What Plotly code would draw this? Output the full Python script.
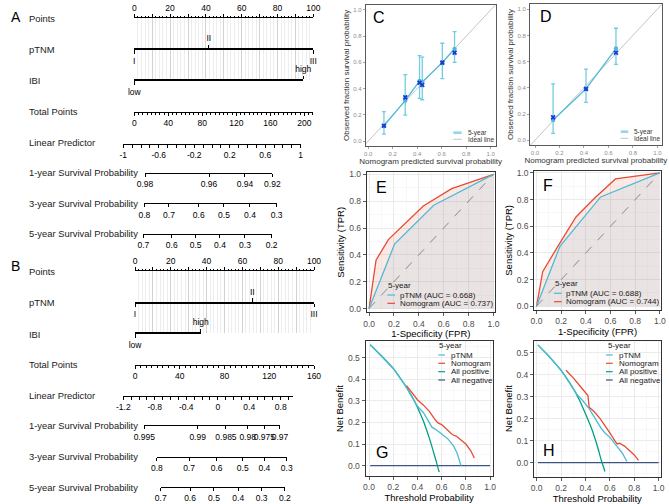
import plotly.graph_objects as go

W, H = 669, 504
FONT = "Liberation Sans"

# ======================= DATA =======================
# ---- Nomogram A ----
nomA_ptnm_levels = ["I", "II", "III"]
nomA_ptnm_points = [0, 41.6, 100]
nomA_ibi_levels = ["low", "high"]
nomA_ibi_points = [0, 94.4]
nomA_total_range = [0, 210.6]
nomA_total_ticks = [0, 40, 80, 120, 160, 200]
nomA_lp_range = [-1, 1]
nomA_lp_ticks = [-1, -0.6, -0.2, 0.2, 0.6, 1]
nomA_s1_labels = ["0.98", "0.96", "0.94", "0.92"]
nomA_s1_total = [12.6, 87.9, 130.2, 162.4]
nomA_s3_labels = ["0.8", "0.7", "0.6", "0.5", "0.4", "0.3"]
nomA_s3_total = [11.8, 40.8, 75.8, 105.5, 136.1, 167.5]
nomA_s5_labels = ["0.7", "0.6", "0.5", "0.4", "0.3", "0.2"]
nomA_s5_total = [10.6, 44.0, 72.2, 100.8, 130.2, 161.6]

# ---- Nomogram B ----
nomB_ptnm_levels = ["I", "II", "III"]
nomB_ptnm_points = [0, 65.5, 100]
nomB_ibi_levels = ["low", "high"]
nomB_ibi_points = [0, 36.7]
nomB_total_range = [0, 160]
nomB_total_ticks = [0, 40, 80, 120, 160]
nomB_lp_range = [-1.2, 0.96]
nomB_lp_ticks = [-1.2, -0.8, -0.4, 0, 0.4, 0.8]
nomB_s1_labels = ["0.995", "0.99", "0.985", "0.98", "0.975", "0.97"]
nomB_s1_total = [8.3, 56.0, 81.3, 100.7, 115.6, 129.6]
nomB_s3_labels = ["0.8", "0.7", "0.6", "0.5", "0.4", "0.3"]
nomB_s3_total = [19.5, 48.3, 73.0, 96.3, 115.6, 135.6]
nomB_s5_labels = ["0.7", "0.6", "0.5", "0.4", "0.3", "0.2"]
nomB_s5_total = [23.0, 49.2, 70.6, 92.3, 113.2, 134.0]

points_ticks = [0, 10, 20, 30, 40, 50, 60, 70, 80, 90, 100]
points_labels = ["0", "", "20", "", "40", "", "60", "", "80", "", "100"]
row_names = ["Points", "pTNM", "IBI", "Total Points", "Linear Predictor",
             "1-year Survival Probability", "3-year Survival Probability",
             "5-year Survival Probability"]

# ---- Calibration C ----
calC_pred = [0.128, 0.302, 0.419, 0.441, 0.605, 0.705]
calC_obs = [0.115, 0.310, 0.458, 0.450, 0.598, 0.702]
calC_lower = [0.053, 0.198, 0.325, 0.315, 0.476, 0.600]
calC_upper = [0.224, 0.506, 0.651, 0.640, 0.746, 0.834]
calC_corrected = [0.117, 0.333, 0.445, 0.427, 0.598, 0.674]
# ---- Calibration D ----
calD_pred = [0.148, 0.417, 0.662]
calD_obs = [0.155, 0.392, 0.700]
calD_lower = [0.053, 0.290, 0.579]
calD_upper = [0.430, 0.543, 0.855]
calD_corrected = [0.175, 0.392, 0.668]
ideal_line = [-0.1, 1.1]

# ---- ROC E ----
rocE_ptnm_fpr = [0, 0.205, 0.52, 1]
rocE_ptnm_tpr = [0, 0.48, 0.77, 1]
rocE_nomo_fpr = [0, 0.056, 0.155, 0.436, 0.664, 1]
rocE_nomo_tpr = [0, 0.36, 0.514, 0.764, 0.893, 1]
# ---- ROC F ----
rocF_ptnm_fpr = [0, 0.19, 0.52, 1]
rocF_ptnm_tpr = [0, 0.45, 0.82, 1]
rocF_nomo_fpr = [0, 0.05, 0.18, 0.32, 0.47, 0.64, 1]
rocF_nomo_tpr = [0, 0.26, 0.46, 0.67, 0.81, 0.955, 1]
roc_chance = [0, 1]

# ---- DCA G ----
dcaG_all_x = [0.01, 0.1, 0.2, 0.3, 0.35, 0.4, 0.45, 0.5, 0.55, 0.58]
dcaG_all_y = [0.56, 0.51, 0.45, 0.37, 0.325, 0.27, 0.205, 0.125, 0.03, -0.03]
dcaG_ptnm_x = [0.01, 0.1, 0.2, 0.3, 0.35, 0.4, 0.45, 0.5, 0.52, 0.55, 0.6, 0.65, 0.7, 0.73, 0.76]
dcaG_ptnm_y = [0.56, 0.51, 0.45, 0.37, 0.325, 0.275, 0.245, 0.2, 0.178, 0.168, 0.148, 0.125, 0.09, 0.055, 0.0]
dcaG_nomo_x = [0.31, 0.35, 0.4, 0.45, 0.5, 0.55, 0.57, 0.6, 0.65, 0.69, 0.72, 0.76, 0.8, 0.84, 0.87]
dcaG_nomo_y = [0.37, 0.34, 0.305, 0.28, 0.25, 0.21, 0.198, 0.19, 0.165, 0.143, 0.137, 0.12, 0.1, 0.07, 0.035]
dca_none_x = [0.01, 1.0]
dca_none_y = [0.0, 0.0]
# ---- DCA H ----
dcaH_all_x = [0.01, 0.1, 0.2, 0.3, 0.35, 0.4, 0.45, 0.5, 0.53, 0.56]
dcaH_all_y = [0.535, 0.483, 0.419, 0.336, 0.285, 0.222, 0.155, 0.07, 0.01, -0.04]
dcaH_ptnm_x = [0.01, 0.1, 0.2, 0.3, 0.33, 0.38, 0.43, 0.48, 0.53, 0.56, 0.6, 0.65, 0.7, 0.74]
dcaH_ptnm_y = [0.535, 0.485, 0.42, 0.336, 0.31, 0.28, 0.245, 0.2, 0.155, 0.135, 0.115, 0.08, 0.045, 0.005]
dcaH_nomo_x = [0.24, 0.3, 0.36, 0.42, 0.43, 0.47, 0.52, 0.56, 0.6, 0.64, 0.66, 0.68, 0.72, 0.76, 0.8, 0.835]
dcaH_nomo_y = [0.42, 0.385, 0.345, 0.305, 0.252, 0.232, 0.2, 0.17, 0.135, 0.1, 0.085, 0.088, 0.075, 0.055, 0.035, 0.01]

# colours
C_CYAN = "#4DBBD5"
C_RED = "#E64B35"
C_TEAL = "#00A087"
C_NAVY = "#3C5488"
C_BLUE = "#1f35d6"

# ======================= LAYOUT HELPERS =======================
fig = go.Figure()
layout = dict(template="none", width=W, height=H, autosize=False,
              margin=dict(l=0, r=0, t=0, b=0, pad=0, autoexpand=False),
              paper_bgcolor="white", plot_bgcolor="rgba(0,0,0,0)", showlegend=False,
              font=dict(family=FONT, color="black"))
annotations = []
shapes = []
n_axes = [0]


def fx(px):
    return px / W


def fy(py):
    return 1 - py / H


def add_pair(xcfg, ycfg):
    n_axes[0] += 1
    n = n_axes[0]
    s = "" if n == 1 else str(n)
    xcfg["anchor"] = "y" + s
    ycfg["anchor"] = "x" + s
    xcfg["automargin"] = False
    ycfg["automargin"] = False
    layout["xaxis" + s] = xcfg
    layout["yaxis" + s] = ycfg
    return "x" + s, "y" + s


HIDDEN_Y = dict(showline=False, showticklabels=False, showgrid=False, zeroline=False,
                ticks="", range=[0, 1], fixedrange=True)
NOMO_TICKFONT = dict(family=FONT, size=8.5, color="black")


def scale_axis(px0, px1, y_px, rng, side, tickvals, ticktext, ticklen=3.5,
               minor=None, grid=None, ydomain=None):
    yf = fy(y_px)
    if ydomain is None:
        ydomain = [yf, yf + 0.004] if side == "bottom" else [yf - 0.004, yf]
    eps = (rng[1] - rng[0]) * 1e-6
    x = dict(domain=[fx(px0), fx(px1)], range=[rng[0] - eps, rng[1] + eps], side=side,
             showline=True, linecolor="black", linewidth=1,
             ticks="outside", ticklen=ticklen, tickwidth=1, tickcolor="black",
             tickmode="array", tickvals=tickvals, ticktext=ticktext, tickangle=0,
             tickfont=NOMO_TICKFONT, showgrid=False, zeroline=False, fixedrange=True)
    if minor:
        x["minor"] = minor
    if grid:
        x.update(grid)
    y = dict(HIDDEN_Y, domain=ydomain)
    xa, ya = add_pair(x, y)
    fig.add_trace(go.Scatter(x=[None], y=[None], xaxis=xa, yaxis=ya,
                             showlegend=False, hoverinfo="skip"))


def text(px, py, s, size, color="black", xanchor="left", family=FONT):
    annotations.append(dict(x=fx(px), y=fy(py), xref="paper", yref="paper", text=s,
                            showarrow=False, xanchor=xanchor, yanchor="middle",
                            font=dict(family=family, size=size, color=color)))


def build_nomogram(g, d, letter):
    pscale = (g["p100"] - g["p0"]) / 100.0

    def ppx(v):
        return g["p0"] + v * pscale

    tr = d["total_range"]
    tscale = (g["p100"] - g["p0"]) / (tr[1] - tr[0])

    def tpx(t):
        return g["p0"] + (t - tr[0]) * tscale

    rows = g["rows"]
    # Points scale with reference grid
    scale_axis(ppx(0), ppx(100), rows["points"], [0, 100], "top", points_ticks, points_labels,
               ticklen=3,
               minor=dict(dtick=2, tick0=0, ticks="outside", ticklen=1.5, tickcolor="black",
                          showgrid=True, gridcolor="#ededed", gridwidth=1),
               grid=dict(showgrid=True, gridcolor="#d2d2d2", gridwidth=1),
               ydomain=[fy(rows["ibi"]), fy(rows["points"])])
    # categorical predictors (labels alternate below / above)
    for key, levels, pts in [("ptnm", d["ptnm_levels"], d["ptnm_points"]),
                             ("ibi", d["ibi_levels"], d["ibi_points"])]:
        lo, hi = min(pts), max(pts)
        below = [i for i in range(len(levels)) if i % 2 == 0]
        above = [i for i in range(len(levels)) if i % 2 == 1]
        scale_axis(ppx(lo), ppx(hi), rows[key], [lo, hi], "bottom",
                   [pts[i] for i in below], [levels[i] for i in below])
        scale_axis(ppx(lo), ppx(hi), rows[key], [lo, hi], "top",
                   [pts[i] for i in above], [levels[i] for i in above])
    # total points
    scale_axis(tpx(tr[0]), tpx(tr[1]), rows["total"], tr, "bottom", d["total_ticks"],
               [f"{v:g}" for v in d["total_ticks"]], ticklen=3,
               minor=dict(dtick=5, tick0=0, ticks="outside", ticklen=2.5, tickcolor="black"))
    # linear predictor
    lr = d["lp_range"]
    scale_axis(g["lp0"], g["lp0"] + (lr[1] - lr[0]) * g["lp_unit"], rows["lp"], lr, "bottom",
               d["lp_ticks"], [f"{v:g}" for v in d["lp_ticks"]], ticklen=3,
               minor=dict(dtick=0.1, tick0=lr[0], ticks="outside", ticklen=2.5, tickcolor="black"))
    # survival probabilities
    for key, labels, tot in [("s1", d["s1_labels"], d["s1_total"]),
                             ("s3", d["s3_labels"], d["s3_total"]),
                             ("s5", d["s5_labels"], d["s5_total"])]:
        lo, hi = min(tot), max(tot)
        scale_axis(tpx(lo), tpx(hi), rows[key], [lo, hi], "bottom", tot, labels, ticklen=3)
    # row labels
    keys = ["points", "ptnm", "ibi", "total", "lp", "s1", "s3", "s5"]
    for k, name in zip(keys, row_names):
        text(27, g["label_y"][k], name, 9.4, color="#1a1a1a")
    text(9, g["letter_y"], letter, 14, color="black")


GEO_A = dict(p0=134.3, p100=313.3, lp0=123.3, lp_unit=88.7, letter_y=17,
             rows=dict(points=18.3, ptnm=49.3, ibi=80.0, total=111.7, lp=144.0,
                       s1=172.7, s3=203.3, s5=234.0),
             label_y=dict(points=18.5, ptnm=50, ibi=80.5, total=111.2, lp=142.5,
                          s1=172.2, s3=203, s5=233.5))
GEO_B = dict(p0=135.0, p100=314.0, lp0=123.3, lp_unit=78.7, letter_y=266,
             rows=dict(points=271.0, ptnm=302.7, ibi=333.0, total=364.7, lp=396.0,
                       s1=425.3, s3=457.0, s5=487.0),
             label_y=dict(points=271.5, ptnm=302.5, ibi=334, total=364, lp=395,
                          s1=425.5, s3=456.5, s5=487))

build_nomogram(GEO_A, dict(ptnm_levels=nomA_ptnm_levels, ptnm_points=nomA_ptnm_points,
                           ibi_levels=nomA_ibi_levels, ibi_points=nomA_ibi_points,
                           total_range=nomA_total_range, total_ticks=nomA_total_ticks,
                           lp_range=nomA_lp_range, lp_ticks=nomA_lp_ticks,
                           s1_labels=nomA_s1_labels, s1_total=nomA_s1_total,
                           s3_labels=nomA_s3_labels, s3_total=nomA_s3_total,
                           s5_labels=nomA_s5_labels, s5_total=nomA_s5_total), "A")
build_nomogram(GEO_B, dict(ptnm_levels=nomB_ptnm_levels, ptnm_points=nomB_ptnm_points,
                           ibi_levels=nomB_ibi_levels, ibi_points=nomB_ibi_points,
                           total_range=nomB_total_range, total_ticks=nomB_total_ticks,
                           lp_range=nomB_lp_range, lp_ticks=nomB_lp_ticks,
                           s1_labels=nomB_s1_labels, s1_total=nomB_s1_total,
                           s3_labels=nomB_s3_labels, s3_total=nomB_s3_total,
                           s5_labels=nomB_s5_labels, s5_total=nomB_s5_total), "B")


# ======================= PANELS =======================
def panel(xdom, ydom, xr, yr, xtitle, ytitle, kind, ydtick=0.2):
    if kind == "cal":
        tf = dict(family=FONT, size=6, color="#8c8c8c")
        ttf = dict(family=FONT, size=8, color="#333333")
        common = dict(showline=True, mirror=True, linecolor="#5a5a5a", linewidth=1,
                      ticks="outside", ticklen=2, tickcolor="#8c8c8c", tickwidth=0.8,
                      showgrid=False, zeroline=False, tickformat=".1f", tickangle=0,
                      tickfont=tf, fixedrange=True)
    else:
        tf = dict(family=FONT, size=8.5, color="#4d4d4d")
        ttf = dict(family=FONT, size=9.5, color="black")
        common = dict(showline=True, mirror=True, linecolor="#333333", linewidth=1,
                      ticks="outside", ticklen=3, tickcolor="#333333", tickwidth=0.8,
                      showgrid=True, gridcolor="#e6e6e6", gridwidth=0.8,
                      zeroline=False, tickformat=".1f", tickangle=0,
                      tickfont=tf, fixedrange=True)
    x = dict(common, domain=[fx(xdom[0]), fx(xdom[1])], range=xr, dtick=0.2, tick0=0,
             title=dict(text=xtitle, font=ttf, standoff=2))
    y = dict(common, domain=[fy(ydom[1]), fy(ydom[0])], range=yr, dtick=ydtick, tick0=0,
             title=dict(text=ytitle, font=ttf, standoff=2))
    if kind != "cal":
        x["minor"] = dict(dtick=0.1, tick0=0, showgrid=True, gridcolor="#f3f3f3", gridwidth=0.6)
        y["minor"] = dict(dtick=ydtick / 2, tick0=0, showgrid=True, gridcolor="#f3f3f3", gridwidth=0.6)
    return add_pair(x, y)


def line_key(x0, x1, py, color, width):
    shapes.append(dict(type="line", xref="paper", yref="paper", x0=fx(x0), x1=fx(x1),
                       y0=fy(py), y1=fy(py), line=dict(color=color, width=width)))


def calib(xdom, ydom, xr, yr, pred, obs, lower, upper, corrected, letter, lpos, key):
    xa, ya = panel(xdom, ydom, xr, yr, "Nomogram predicted survival probability",
                   "Observed fraction survival probability", "cal")
    fig.add_trace(go.Scatter(x=ideal_line, y=ideal_line, mode="lines",
                             line=dict(color="#c4c4c4", width=1), xaxis=xa, yaxis=ya,
                             showlegend=False, hoverinfo="skip"))
    fig.add_trace(go.Scatter(x=pred, y=obs, mode="lines+markers",
                             line=dict(color=C_CYAN, width=1.3),
                             marker=dict(color=C_CYAN, size=4.5),
                             error_y=dict(type="data", symmetric=False,
                                          array=[u - o for u, o in zip(upper, obs)],
                                          arrayminus=[o - l for o, l in zip(obs, lower)],
                                          color="#73cde0", thickness=1.3, width=2),
                             xaxis=xa, yaxis=ya, showlegend=False, hoverinfo="skip"))
    fig.add_trace(go.Scatter(x=pred, y=corrected, mode="markers",
                             marker=dict(symbol="x", color=C_BLUE, size=4.5,
                                         line=dict(width=0)),
                             xaxis=xa, yaxis=ya, showlegend=False, hoverinfo="skip"))
    text(lpos[0], lpos[1], letter, 16)
    sx0, sx1, tx, y1, y2 = key
    line_key(sx0, sx1, y1, "#8fd6e6", 2.5)
    line_key(sx0, sx1, y2, "#c4c4c4", 1)
    text(tx, y1, "5-year", 6.5, color="#333333")
    text(tx, y2, "Ideal line", 6.5, color="#333333")


calib([365.7, 495.7], [4.7, 146], [-0.021, 1.041], [-0.038, 1.04],
      calC_pred, calC_obs, calC_lower, calC_upper, calC_corrected, "C", (371, 18),
      (453.3, 461.7, 465.7, 132.7, 139.3))
calib([530.0, 661.7], [4.0, 145], [-0.041, 1.036], [-0.036, 1.04],
      calD_pred, calD_obs, calD_lower, calD_upper, calD_corrected, "D", (538, 17),
      (620.7, 628.3, 631.7, 131.7, 138.3))


def roc(xdom, ydom, xr, yr, pf, pt, nf, nt, auc_p, auc_n, letter, lpos, key):
    xa, ya = panel(xdom, ydom, xr, yr, "1-Specificity (FPR)", "Sensitivity (TPR)", "bw")
    fig.add_trace(go.Scatter(x=roc_chance, y=roc_chance, mode="lines",
                             line=dict(color="#8a8a8a", width=1, dash="dash"),
                             xaxis=xa, yaxis=ya, showlegend=False, hoverinfo="skip"))
    fig.add_trace(go.Scatter(x=nf, y=nt, mode="lines", fill="tozeroy",
                             fillcolor="rgba(230,75,53,0.13)",
                             line=dict(color=C_RED, width=1.3),
                             xaxis=xa, yaxis=ya, showlegend=False, hoverinfo="skip"))
    fig.add_trace(go.Scatter(x=pf, y=pt, mode="lines", fill="tozeroy",
                             fillcolor="rgba(77,187,213,0.10)",
                             line=dict(color=C_CYAN, width=1.3),
                             xaxis=xa, yaxis=ya, showlegend=False, hoverinfo="skip"))
    text(lpos[0], lpos[1], letter, 16)
    tx0, ty, sx0, sx1, tx, y1, y2 = key
    text(tx0, ty, "5-year", 8, color="#1a1a1a")
    line_key(sx0, sx1, y1, C_CYAN, 1.2)
    line_key(sx0, sx1, y2, C_RED, 1.2)
    text(tx, y1, f"pTNM (AUC = {auc_p})", 8, color="#1a1a1a")
    text(tx, y2, f"Nomogram (AUC = {auc_n})", 8, color="#1a1a1a")


roc([366.7, 495.0], [172.3, 312.3], [-0.019, 1.012], [-0.028, 1.015],
    rocE_ptnm_fpr, rocE_ptnm_tpr, rocE_nomo_fpr, rocE_nomo_tpr, "0.668", "0.737",
    "E", (374, 187), (385.5, 285.7, 387.3, 395, 397.7, 295, 303.3))
roc([534.3, 660.7], [170.7, 310.0], [-0.018, 1.007], [-0.028, 1.017],
    rocF_ptnm_fpr, rocF_ptnm_tpr, rocF_nomo_fpr, rocF_nomo_tpr, "0.688", "0.744",
    "F", (541, 185), (552.5, 283.3, 554, 561.7, 564.3, 293.3, 301.7))


def dca(xdom, ydom, xr, yr, ax_, ay_, px_, py_, nx_, ny_, letter, lpos, key):
    xa, ya = panel(xdom, ydom, xr, yr, "Threshold Probability", "Net Benefit", "bw", ydtick=0.1)
    fig.add_trace(go.Scatter(x=dca_none_x, y=dca_none_y, mode="lines",
                             line=dict(color=C_NAVY, width=1.3), xaxis=xa, yaxis=ya,
                             showlegend=False, hoverinfo="skip"))
    fig.add_trace(go.Scatter(x=ax_, y=ay_, mode="lines", line=dict(color=C_TEAL, width=1.3,
                             shape="spline", smoothing=0.6), xaxis=xa, yaxis=ya,
                             showlegend=False, hoverinfo="skip"))
    fig.add_trace(go.Scatter(x=px_, y=py_, mode="lines", line=dict(color=C_CYAN, width=1.3),
                             xaxis=xa, yaxis=ya, showlegend=False, hoverinfo="skip"))
    fig.add_trace(go.Scatter(x=nx_, y=ny_, mode="lines", line=dict(color=C_RED, width=1.3),
                             xaxis=xa, yaxis=ya, showlegend=False, hoverinfo="skip"))
    text(lpos[0], lpos[1], letter, 16)
    tx0, ty, sx0, sx1, tx, ys = key
    text(tx0, ty, "5-year", 8, color="#1a1a1a")
    for (lab, col), yy in zip([("pTNM", C_CYAN), ("Nomogram", C_RED),
                               ("All positive", C_TEAL), ("All negative", C_NAVY)], ys):
        line_key(sx0, sx1, yy, col, 1.2)
        text(tx, yy, lab, 8, color="#1a1a1a")


dca([365.5, 492.7], [341.0, 476.0], [-0.029, 1.022], [-0.048, 0.577],
    dcaG_all_x, dcaG_all_y, dcaG_ptnm_x, dcaG_ptnm_y, dcaG_nomo_x, dcaG_nomo_y,
    "G", (374, 452), (437.3, 345.7, 438.3, 445, 449.3, [355, 363.3, 371.7, 380]))
dca([534.0, 660.5], [340.5, 476.5], [-0.022, 1.015], [-0.063, 0.555],
    dcaH_all_x, dcaH_all_y, dcaH_ptnm_x, dcaH_ptnm_y, dcaH_nomo_x, dcaH_nomo_y,
    "H", (541, 450), (605.7, 345.7, 606, 612.7, 616.7, [355, 363.3, 371.7, 380]))

layout["annotations"] = annotations
layout["shapes"] = shapes
fig.update_layout(**layout)
fig.write_html("out.html", config={"displayModeBar": False, "staticPlot": True},
               post_script="document.body.style.margin='0px';"
                           "document.body.style.overflow='hidden';")
